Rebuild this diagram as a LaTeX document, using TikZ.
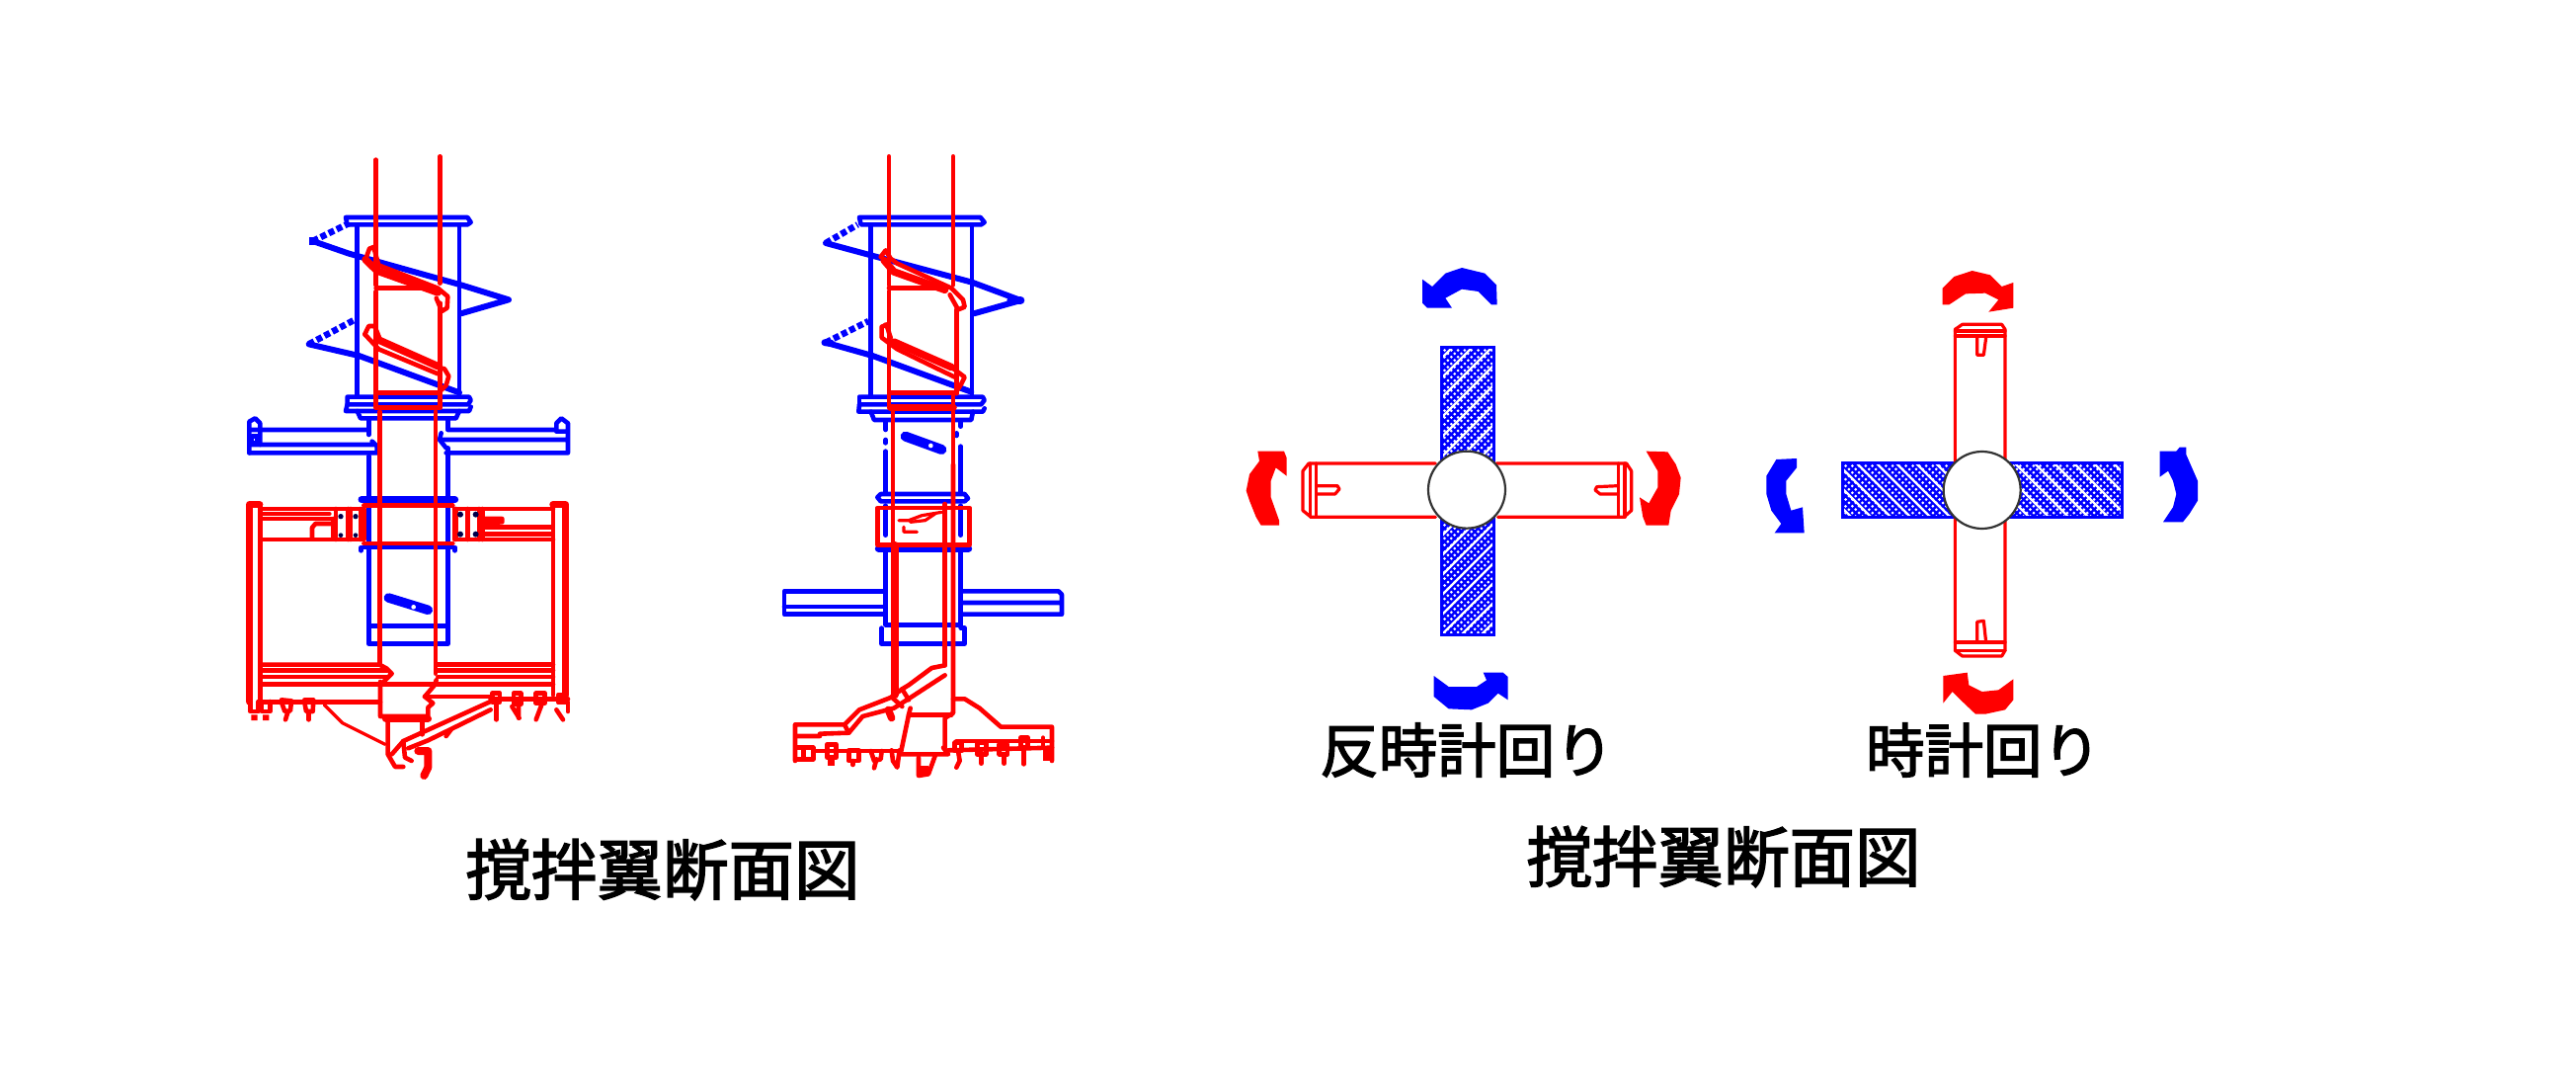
\documentclass[tikz,border=0pt]{standalone}
\usepackage{fontspec}
\newfontfamily\jp[FakeBold=2.4]{Noto Sans CJK JP}
\tikzset{
 bl/.style={draw=blue,line width=4.6pt,line join=round,line cap=round},
 rd/.style={draw=red,line width=4.6pt,line join=round,line cap=round},
 rdthin/.style={draw=red,line width=3.2pt,line join=round,line cap=round},
 flight/.style={draw=blue,line width=6pt,line join=round,line cap=round},
 blthick/.style={draw=blue,line width=7pt,line cap=round},
 rdthick/.style={draw=red,line width=7.5pt,line cap=round,line join=round},
 dotted blue/.style={draw=blue,line width=6.5pt,dash pattern=on 6pt off 3pt},
 zoomed/.style={shift={#1},x=0.33333pt,y=-0.33333pt},
 capt/.style={font=\jp\fontsize{66.5}{66}\selectfont,inner sep=0pt,text=black},
 rot/.style={font=\jp\fontsize{59.5}{58}\selectfont,inner sep=0pt,text=black},
 hub/.style={draw=black!80,line width=2.2pt,fill=white},
}
% hatch: x1 y1 x2 y2 xslope nx ny
\newcommand{\hatchbox}[7]{%
 \begin{scope}
 \clip (#1,#2) rectangle (#3,#4);
 \fill[blue] (#1,#2) rectangle (#3,#4);
 \foreach \ix in {0,...,#6}{\foreach \iy in {0,...,#7}{%
   \pgfmathparse{int(mod(\ix+\iy,2))}%
   \ifnum\pgfmathresult=0
   \fill[white] ({#1+3.5+\ix*3.4},{#2+3.5+\iy*3.4}) circle (1.5);
   \fi}}
 \foreach \k in {-26,...,26}{%
   \draw[white,line width=2.4pt] ({(#1+#3)/2+\k*20-300*#5},{(#2+#4)/2-300}) -- ({(#1+#3)/2+\k*20+300*#5},{(#2+#4)/2+300});}
 \end{scope}
 \draw[blue,line width=3pt] (#1,#2) rectangle (#3,#4);}
\begin{document}
\begin{tikzpicture}[x=1pt,y=-1pt]
\useasboundingbox (0,0) rectangle (2608,1092);
\fill[white] (0,0) rectangle (2608,1092);

% ===== Machine 1, upper =====
\begin{scope}[zoomed={(220,140)}]
 % blue
 \draw[bl] (395,262) -- (390,240) -- (760,240) -- (770,255) -- (760,262) -- cycle;
 \draw[bl] (425,262) -- (425,780) (735,262) -- (735,780);
 \draw[dotted blue] (290,312) -- (400,258);
 \draw[flight] (290,312) -- (400,350) -- (740,445) -- (885,490) -- (740,532);
 \fill[blue] (280,300) rectangle (305,325);
 \draw[dotted blue] (278,625) -- (415,552);
 \draw[flight] (278,625) -- (430,660) -- (735,772);
 \draw[bl] (395,785) -- (765,785) -- (770,795) -- (762,808) -- (395,808) -- cycle;
 \draw[bl] (395,808) -- (390,828) -- (765,828) -- (770,815);
 \draw[bl] (425,828) -- (435,850) -- (725,850) -- (735,828);
 \draw[bl] (460,850) -- (460,900) (700,850) -- (700,880);
 \draw[bl] (460,965) -- (460,990) (700,940) -- (700,990);
 % arms
 \draw[bl] (97,955) -- (97,860) -- (115,850) -- (130,865) -- (130,930);
 \draw[bl] (97,885) -- (460,885) (97,930) -- (475,930) (97,955) -- (485,955) -- (485,935) -- (470,920);
 \draw[bl] (105,905) rectangle (122,925);
 \draw[bl] (700,885) -- (1030,885) (680,915) -- (1060,915) (695,955) -- (1065,955) -- (1065,865) -- (1045,850) -- (1030,865) -- (1030,890) -- (1060,890);
 \draw[bl] (680,895) -- (675,915) -- (695,940);
 % red
 \draw[rd] (482,65) -- (482,445) (482,465) -- (482,818);
 \draw[rd] (676,55) -- (676,440) (676,500) -- (676,818);
 \draw[rd] (482,772) -- (676,772);
 \draw[rd] (482,818) -- (676,818);
 \draw[rd] (482,455) -- (650,455);
 \draw[rdthick] (450,368) -- (485,402) -- (670,468);
 \draw[rd] (450,368) -- (462,335) -- (475,330) -- (490,385) -- (670,455) -- (700,480) -- (698,515) -- (682,525) -- (665,485);
 \draw[rdthick] (490,612) -- (670,692);
 \draw[rd] (448,595) -- (460,570) -- (478,570) -- (492,605);
 \draw[rd] (448,595) -- (490,640) -- (670,715);
 \draw[rd] (670,695) -- (690,700) -- (703,722) -- (695,750) -- (680,765);
 \draw[rd] (493,830) -- (493,990) (663,830) -- (663,990);
\end{scope}

% ===== Machine 1, lower =====
\begin{scope}[zoomed={(220,470)}]
 \draw[bl] (460,0) -- (460,545) -- (700,545) -- (700,0);
 \draw[bl] (460,490) -- (700,490);
 \draw[blthick] (438,107) -- (722,107);
 \draw[bl] (437,262) -- (437,252) -- (722,252) -- (722,262);
 \draw[blthick,line width=9.5pt] (520,405) -- (640,442);
 \fill[white] (596,433) circle (7);
 % red left frame
 \draw[rdthick] (98,720) -- (98,122) -- (128,122);
 \draw[rd] (130,122) -- (130,720);
 \draw[rd] (130,135) -- (445,135) -- (445,228) -- (130,228);
 \draw[rd] (135,150) -- (340,150) (135,165) -- (360,165);
 \draw[rd] (360,135) -- (360,228);
 \draw[rd] (350,180) -- (298,180) -- (288,192) -- (288,225);
 \draw[rd] (352,165) -- (352,225);
 \draw[rd] (398,135) -- (398,228) (405,135) -- (405,228) (435,135) -- (435,228);
 \fill[black!70!blue] (375,158) circle (8) (420,158) circle (8) (375,215) circle (7) (420,215) circle (7);
 % red right frame
 \draw[rdthick] (1058,700) -- (1058,122) -- (1020,122);
 \draw[rd] (1020,122) -- (1020,700);
 \draw[rd] (720,135) -- (1020,135) (720,135) -- (720,228) -- (1020,228);
 \draw[rd] (805,165) -- (865,165) -- (865,175) -- (805,178);
 \draw[rd] (805,190) -- (1015,190) (805,212) -- (1015,212);
 \draw[rd] (805,135) -- (805,228) (760,135) -- (760,228) (795,135) -- (795,228);
 \draw[rd] (725,135) -- (725,228);
 \fill[black!70!blue] (738,152) circle (9) (785,152) circle (9) (738,212) circle (9) (785,212) circle (9);
 \draw[rd] (445,240) -- (715,240);
 \draw[rd] (445,125) -- (715,125);
 \draw[rd] (493,0) -- (493,605) (663,0) -- (663,635);
 % lower
 \draw[rd] (130,608) -- (493,608) -- (515,620) -- (530,635) -- (515,650) -- (505,660);
 \draw[rd] (135,625) -- (515,625) (135,645) -- (515,645);
 \draw[rd] (130,668) -- (1020,668);
 \draw[rd] (670,608) -- (1020,608) (670,625) -- (1020,625) (670,645) -- (1020,645);
 \draw[rd] (130,722) -- (495,722);
 \draw[rd] (495,660) -- (495,765) -- (640,765) -- (640,738) -- (655,725) -- (630,705) -- (660,670) -- (665,655);
 \draw[rd] (630,705) -- (830,705);
 \draw[rdthick] (512,772) -- (640,772);
 \draw[rd] (518,772) -- (518,880) -- (540,918) -- (565,918);
 \draw[rd] (622,772) -- (622,820);
 \draw[rdthin] (325,730) -- (380,785) -- (510,850);
 \draw[rd] (530,880) -- (565,840) -- (620,815) -- (830,720);
 \draw[rd] (580,862) -- (640,838) -- (830,745);
 \draw[rd] (565,840) -- (570,890) -- (590,900);
 \draw[rd,line width=8pt] (610,870) -- (640,870) -- (640,920) -- (628,945);
 \draw[rd] (695,825) -- (710,805);
 % teeth left
 \draw[rd] (100,720) -- (100,750) -- (125,750) -- (125,720);
 \draw[rd] (135,720) -- (135,750) -- (160,750) -- (160,720);
 \fill[red] (103,760) rectangle (122,777) (138,760) rectangle (157,777);
 \draw[rd] (195,722) -- (205,750) -- (222,748) -- (225,718) -- (195,715);
 \draw[rd] (215,750) -- (207,775);
 \draw[rd] (265,722) -- (270,750) -- (290,750) -- (292,715) -- (265,715);
 \draw[rd] (278,750) -- (278,775);
 % teeth right
 \draw[rd] (830,712) -- (1065,712);
 \draw[rd] (835,722) -- (835,695) -- (858,695) -- (858,722) -- cycle;
 \draw[rd] (900,695) rectangle (922,728);
 \draw[rd] (968,695) rectangle (995,725);
 \draw[rd] (1035,700) rectangle (1058,722);
 \draw[rd] (848,722) -- (848,775);
 \draw[rd] (895,735) -- (917,770) (915,730) -- (915,770);
 \draw[rd] (985,730) -- (968,775);
 \draw[rd] (1030,745) -- (1050,775);
 \draw[rd] (1065,722) -- (1065,750);
\end{scope}

% ===== Machine 2, upper =====
\begin{scope}[zoomed={(780,140)}]
 \draw[bl] (275,262) -- (270,240) -- (638,240) -- (650,255) -- (640,262) -- cycle;
 \draw[bl] (305,262) -- (305,780) (612,262) -- (612,780);
 \draw[dotted blue] (168,318) -- (265,262);
 \draw[flight] (168,318) -- (305,355) -- (612,437) -- (760,492) -- (618,532);
 \draw[dotted blue] (168,620) -- (298,555);
 \draw[flight] (168,620) -- (310,660) -- (610,770);
 \draw[blthick] (165,620) -- (185,622);
 \draw[blthick,line width=8pt] (730,492) -- (760,492);
 \draw[bl] (275,785) -- (645,785) -- (650,795) -- (640,808) -- (270,808) -- (268,830) -- (645,830) -- (650,820);
 \draw[bl] (270,785) -- (270,808);
 \draw[bl] (305,830) -- (315,855) -- (610,855) -- (615,830);
 \draw[bl] (350,860) -- (350,885) (350,915) -- (350,925) (350,950) -- (350,990);
 \draw[bl] (578,860) -- (578,875) (565,895) -- (565,903) (578,935) -- (578,990);
 \draw[blthick,line width=10pt] (410,905) -- (520,945);
 \fill[white] (487,933) circle (7);
 % red
 \draw[rd] (360,55) -- (360,445) (360,465) -- (360,810);
 \draw[rd] (555,55) -- (555,445) (565,520) -- (565,775) (555,772) -- (555,818);
 \draw[rd] (365,772) -- (555,772);
 \draw[rdthick] (365,818) -- (555,818);
 \draw[rd] (360,455) -- (530,455);
 \draw[rdthick] (345,370) -- (375,405) -- (530,460);
 \draw[rd] (335,360) -- (350,340) -- (365,365) -- (385,380) -- (550,455) -- (585,490) -- (590,512) -- (570,520) -- (545,475);
 \draw[rdthick] (375,618) -- (550,695);
 \draw[rd] (340,572) -- (352,565) -- (365,605);
 \draw[rd] (338,572) -- (338,605) -- (385,640) -- (560,725);
 \draw[rd] (550,695) -- (590,725) -- (580,745) -- (570,762);
 \draw[rd] (372,830) -- (372,990) (555,830) -- (555,990);
\end{scope}

% ===== Machine 2, lower =====
\begin{scope}[zoomed={(780,470)}]
 \draw[bl] (350,0) -- (350,85) (578,0) -- (578,85);
 \draw[bl] (335,90) -- (590,90) -- (600,103) -- (590,112) -- (335,112) -- (325,100) -- cycle;
 \draw[bl] (350,125) -- (350,215) (578,125) -- (578,215);
 \draw[blthick] (328,255) -- (602,255);
 \draw[bl] (350,265) -- (350,487) -- (578,487) -- (578,265);
 \draw[bl] (337,497) -- (337,545) -- (590,545) -- (590,497) -- (578,497);
 \draw[bl] (345,385) -- (42,385) -- (42,455) -- (345,455) (42,432) -- (345,432);
 \draw[bl] (582,385) -- (875,385) -- (885,395) -- (885,455) -- (582,455) (582,420) -- (885,420);
 % red
 \draw[rd] (325,245) -- (325,132) -- (605,132) -- (605,245) -- cycle;
 \draw[rd] (372,0) -- (372,245);
 \draw[rdthick] (378,245) -- (378,700);
 \draw[rd] (555,0) -- (555,755) -- (530,770) -- (530,860);
 \draw[rd] (530,120) -- (530,610);
 \draw[rdthin] (390,170) -- (420,170) -- (460,155) -- (520,145);
 \draw[rdthin] (405,190) -- (405,205) -- (445,205) (425,175) -- (470,170) -- (500,150);
 % blades
 \draw[rd] (530,610) -- (490,618) -- (420,670) -- (400,682) -- (365,708) -- (270,745) -- (225,790) -- (75,790) -- (75,900);
 \draw[rd] (530,640) -- (430,705) -- (375,740) -- (280,765) -- (238,815) -- (150,818) -- (150,825) -- (78,825);
 \draw[rd] (225,790) -- (238,815);
 \draw[rd] (400,682) -- (420,715) (372,710) -- (400,735);
 \draw[rdthick] (358,745) -- (368,770);
 \draw[rd] (555,712) -- (590,712) -- (635,740) -- (700,797) -- (855,797) -- (855,900);
 \draw[rd] (565,840) -- (855,840);
 \draw[rd] (420,760) -- (550,760);
 \draw[rd] (420,760) -- (425,740) (420,760) -- (395,880) -- (540,880) -- (525,860);
 \draw[rd] (450,890) -- (450,945) -- (480,940) -- (500,885);
 \fill[red] (450,915) rectangle (480,945);
 % teeth left
 \draw[rd] (78,860) -- (130,860) -- (130,895) -- (78,895);
 \draw[rd] (100,860) -- (100,895);
 \draw[rd] (130,870) -- (395,870);
 \draw[rd] (172,850) rectangle (200,890);
 \fill[red] (175,895) rectangle (195,915);
 \draw[rd] (238,868) rectangle (268,900);
 \draw[rd] (250,900) -- (250,912);
 \draw[rd] (305,870) -- (315,900) -- (335,895) -- (338,870) (322,895) -- (315,922);
 \draw[rd] (368,868) -- (372,900) -- (385,920) -- (392,868);
 % teeth right
 \draw[rd] (540,868) -- (855,860);
 \draw[rd] (560,845) rectangle (580,870);
 \draw[rd] (570,870) -- (575,900) -- (565,920);
 \draw[rd] (628,845) rectangle (655,880);
 \draw[rd] (640,880) -- (640,908);
 \draw[rd] (695,850) rectangle (720,880);
 \draw[rd] (710,880) -- (710,908);
 \draw[rd] (760,830) rectangle (782,860);
 \draw[rd] (770,860) -- (770,910);
 \fill[red] (828,865) rectangle (855,900);
 \draw[rd] (828,830) -- (828,860);
\end{scope}

% ===== Cross 1 =====
\hatchbox{1459}{351}{1512}{642}{-1}{15}{85}
\begin{scope}[zoomed={(1250,260)}]
 \fill[white] (225,632) rectangle (1185,785);
 \draw[rdthin] (610,627) -- (225,627) -- (207,650) -- (207,770) -- (232,790) -- (610,790);
 \draw[rdthin] (230,627) -- (230,790) (248,627) -- (248,790);
 \draw[rdthin] (248,695) -- (312,695) -- (318,705) -- (305,720) -- (248,720);
 \draw[rdthin] (795,627) -- (1190,627) -- (1205,650) -- (1205,770) -- (1182,790) -- (800,790);
 \draw[rdthin] (1185,627) -- (1185,790) (1165,627) -- (1165,790);
 \draw[rdthin] (1165,695) -- (1100,698) -- (1095,708) -- (1110,720) -- (1165,720);
 \node[hub,circle,minimum size=78pt,inner sep=0pt] (hubA) at (705,707) {};
 % arrows
 \fill[blue] (797,145) -- (795,85) -- (760,50) -- (690,33) -- (640,50) -- (600,90) -- (570,68) -- (570,140) -- (585,155) -- (660,155) -- (640,125) -- (690,98) -- (740,105) -- (780,145) -- cycle;
 \fill[blue] (605,1272) -- (650,1305) -- (735,1305) -- (765,1285) -- (755,1262) -- (815,1262) -- (830,1275) -- (830,1345) -- (800,1325) -- (770,1355) -- (720,1375) -- (650,1372) -- (605,1335) -- cycle;
 \fill[red] (70,590) -- (150,590) -- (158,610) -- (158,665) -- (125,640) -- (110,680) -- (110,730) -- (135,800) -- (135,815) -- (80,815) -- (65,790) -- (45,740) -- (35,710) -- (45,660) -- (75,620) -- cycle;
 \fill[red] (1250,590) -- (1315,592) -- (1340,630) -- (1355,670) -- (1350,720) -- (1325,770) -- (1318,815) -- (1250,815) -- (1240,790) -- (1230,730) -- (1258,748) -- (1285,700) -- (1285,650) -- cycle;
\end{scope}

% ===== Cross 2 =====
\hatchbox{1865}{468}{2148}{523}{1}{83}{16}
\begin{scope}[zoomed={(1770,260)}]
 \draw[rdthin] (628,625) -- (628,220) -- (650,205) -- (770,205) -- (780,220) -- (780,625);
 \draw[rdthin] (628,225) -- (780,225) (628,240) -- (780,240);
 \draw[rdthin] (695,240) -- (695,298) -- (715,298) -- (722,245);
 \draw[rdthin] (628,790) -- (628,1195) -- (650,1212) -- (770,1212) -- (780,1195) -- (780,790);
 \draw[rdthin] (628,1170) -- (780,1170) (628,1195) -- (780,1195);
 \draw[rdthin] (695,1170) -- (695,1108) -- (715,1105) -- (722,1170);
 \node[hub,circle,minimum size=78pt,inner sep=0pt] (hubB) at (710,708) {};
 % arrows
 \fill[red] (590,145) -- (590,95) -- (625,60) -- (680,42) -- (735,55) -- (770,90) -- (805,78) -- (805,155) -- (730,167) -- (760,130) -- (720,110) -- (660,112) -- (610,145) -- cycle;
 \fill[red] (592,1272) -- (665,1262) -- (670,1300) -- (710,1320) -- (760,1315) -- (805,1282) -- (805,1345) -- (780,1375) -- (720,1388) -- (690,1388) -- (650,1350) -- (620,1320) -- (592,1355) -- cycle;
 \fill[blue] (85,615) -- (147,612) -- (147,640) -- (115,680) -- (115,720) -- (130,770) -- (165,760) -- (170,838) -- (80,838) -- (100,810) -- (70,770) -- (55,720) -- (55,665) -- cycle;
 \fill[blue] (1250,590) -- (1300,590) -- (1310,578) -- (1330,578) -- (1330,600) -- (1365,680) -- (1365,740) -- (1340,780) -- (1320,805) -- (1260,805) -- (1290,760) -- (1300,720) -- (1290,680) -- (1275,650) -- (1250,668) -- cycle;
\end{scope}

% ===== Texts =====
\node[capt] (captA) at (671,880) {撹拌翼断面図};
\node[capt] (captB) at (1745,867) {撹拌翼断面図};
\node[rot] (ccw) at (1485,759) {反時計回り};
\node[rot] (cw) at (2008,759) {時計回り};
\end{tikzpicture}
\end{document}
